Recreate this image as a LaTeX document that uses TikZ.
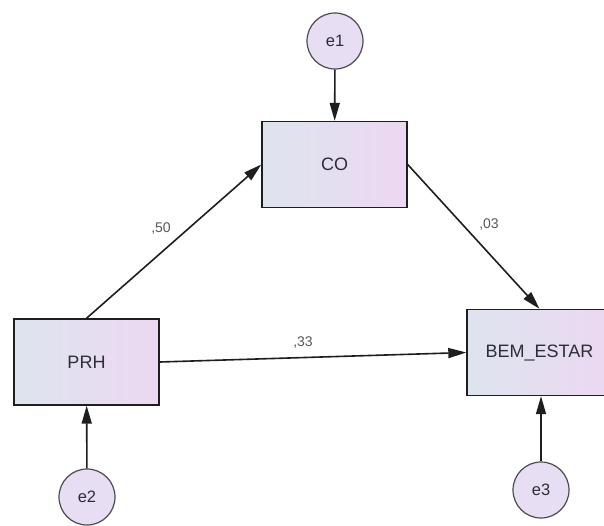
\documentclass[tikz,border=0pt]{standalone}
\usepackage{fontspec}
\setmainfont{Liberation Sans}
\usetikzlibrary{arrows.meta}
\definecolor{boxleft}{RGB}{222,228,238}
\definecolor{boxright}{RGB}{236,216,242}
\definecolor{errfill}{RGB}{232,222,243}
\definecolor{inkline}{RGB}{30,30,30}
\definecolor{inktext}{RGB}{45,45,55}
\begin{document}
\begin{tikzpicture}[x=1pt,y=-1pt,
  varbox/.style={draw=inkline, line width=1.4pt, shading=axis, left color=boxleft, right color=boxright,
    minimum width=145pt, minimum height=86pt, inner sep=0pt, text=inktext, font=\fontsize{18}{20}\selectfont},
  errnode/.style={circle, draw=inkline!80, line width=1.2pt, fill=errfill, minimum size=56pt, inner sep=0pt,
    text=inktext, font=\fontsize{16.5}{18}\selectfont},
  path/.style={draw=inkline, line width=1.6pt, -{Triangle[length=18pt,width=10pt]}},
  coef/.style={text=inktext!80, font=\fontsize{14}{16}\selectfont, inner sep=0pt}]
  \useasboundingbox (0,0) rectangle (604,525);
  \fill[white] (0,0) rectangle (604,525);

  % observed variables
  \node[varbox] (CO)  at (334.5,164.5) {CO};
  \node[varbox] (PRH) at (86.5,362)    {PRH};
  \node[varbox] (BEM) at (539.5,352.5) {BEM\_ESTAR};

  % error terms
  \node[errnode] (e1) at (335,41)  {e1};
  \node[errnode] (e2) at (87,497)  {e2};
  \node[errnode] (e3) at (541,490) {e3};

  % structural paths
  \draw[path] (PRH.north) -- (CO.west);
  \draw[path] (CO.east) -- (BEM.north);
  \draw[path] (PRH.east) -- (BEM.west);

  % error paths
  \draw[path] (e1) -- (CO);
  \draw[path] (e2) -- (PRH);
  \draw[path] (e3) -- (BEM.south -| e3);

  % path coefficients
  \node[coef] (c50) at (161,229) {,50};
  \node[coef] (c03) at (489,225) {,03};
  \node[coef] (c33) at (303,343) {,33};
\end{tikzpicture}
\end{document}
